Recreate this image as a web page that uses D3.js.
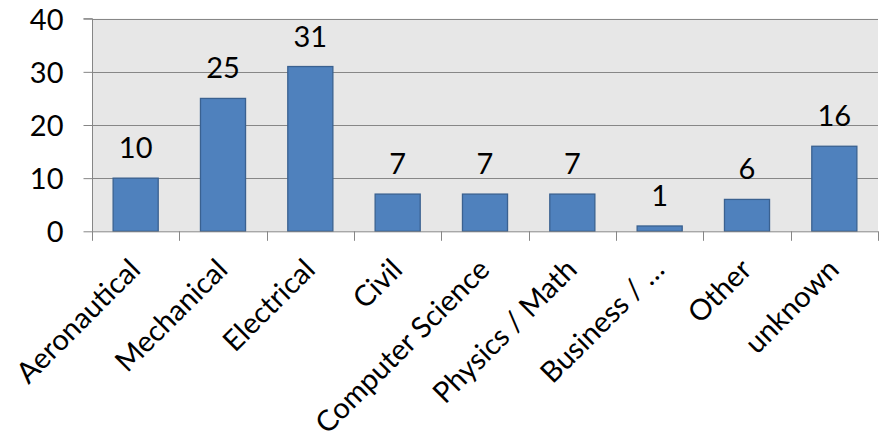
<!DOCTYPE html>
<html>
<head>
<meta charset="utf-8">
<script src="https://cdn.jsdelivr.net/npm/d3@7"></script>
<style>
  html, body { margin: 0; padding: 0; background: #fff; }
  svg { display: block; }
  text { font-family: Lato, "Open Sans", sans-serif; fill: #000; }
</style>
</head>
<body>
<svg id="chart" width="881" height="438"></svg>
<script>
// Degree field counts
const categories = ["Aeronautical", "Mechanical", "Electrical", "Civil", "Computer Science",
                    "Physics / Math", "Business / …", "Other", "unknown"];
const counts = [10, 25, 31, 7, 7, 7, 1, 6, 16];
const yTicks = [0, 10, 20, 30, 40];

const W = 881, H = 438;
const plot = { left: 92, right: 878, top: 18.7, bottom: 231.3 };
const fontSize = 29;

const svg = d3.select("#chart");

const x = d3.scaleBand()
  .domain(categories)
  .range([plot.left, plot.right])
  .paddingInner(0.484)
  .paddingOuter(0.242);

const y = d3.scaleLinear()
  .domain([0, 40])
  .range([plot.bottom, plot.top]);

// Plot background
svg.append("rect")
  .attr("x", plot.left).attr("y", plot.top)
  .attr("width", plot.right - plot.left).attr("height", plot.bottom - plot.top)
  .attr("fill", "#e7e7e7");

// Horizontal gridlines
svg.append("g")
  .selectAll("line")
  .data(yTicks.filter(d => d > 0))
  .join("line")
  .attr("x1", plot.left).attr("x2", plot.right)
  .attr("y1", d => Math.round(y(d)) + 0.5).attr("y2", d => Math.round(y(d)) + 0.5)
  .attr("stroke", "#878787").attr("stroke-width", 1);

// Bars
svg.append("g")
  .selectAll("rect")
  .data(categories.map((c, i) => ({ c, v: counts[i] })))
  .join("rect")
  .attr("x", d => x(d.c))
  .attr("y", d => y(d.v))
  .attr("width", x.bandwidth())
  .attr("height", d => y(0) - y(d.v))
  .attr("fill", "#4f81bd")
  .attr("stroke", "#3a6190")
  .attr("stroke-width", 1.3);

// Value labels above bars
svg.append("g")
  .selectAll("text")
  .data(categories.map((c, i) => ({ c, v: counts[i] })))
  .join("text")
  .attr("x", d => x(d.c) + x.bandwidth() / 2)
  .attr("y", d => y(d.v) - 20)
  .attr("text-anchor", "middle")
  .attr("font-size", fontSize)
  .text(d => d.v);

// Y axis
const yAxis = d3.axisLeft(y)
  .tickValues(yTicks)
  .tickSize(9)
  .tickPadding(20)
  .tickFormat(d3.format("d"));
const gy = svg.append("g")
  .attr("transform", `translate(${plot.left + 0.5},0)`)
  .call(yAxis);
gy.select(".domain").attr("stroke", "#868686").attr("d", `M-9,${plot.top}H0V${plot.bottom}`);
gy.selectAll(".tick line").attr("stroke", "#868686");
gy.selectAll(".tick text")
  .attr("font-size", fontSize)
  .attr("font-family", "Lato, sans-serif")
  .attr("fill", "#000")
  .attr("dy", "0.36em");

// X axis: tick marks at the category boundaries
const boundaries = d3.range(categories.length + 1)
  .map(i => plot.left + i * (plot.right - plot.left) / categories.length);
const gx = svg.append("g");
gx.append("line")
  .attr("x1", plot.left).attr("x2", plot.right)
  .attr("y1", plot.bottom + 0.5).attr("y2", plot.bottom + 0.5)
  .attr("stroke", "#868686");
gx.selectAll("line.tick")
  .data(boundaries)
  .join("line")
  .attr("class", "tick")
  .attr("x1", d => Math.round(d) + 0.5).attr("x2", d => Math.round(d) + 0.5)
  .attr("y1", plot.bottom).attr("y2", plot.bottom + 9.5)
  .attr("stroke", "#868686");

// Rotated category labels
gx.selectAll("text")
  .data(categories)
  .join("text")
  .attr("text-anchor", "end")
  .attr("font-size", fontSize)
  .attr("dy", "0.36em")
  .attr("transform", d => `translate(${x(d) + x.bandwidth() / 2 - 1},264) rotate(-45)`)
  .text(d => d);
</script>
</body>
</html>
